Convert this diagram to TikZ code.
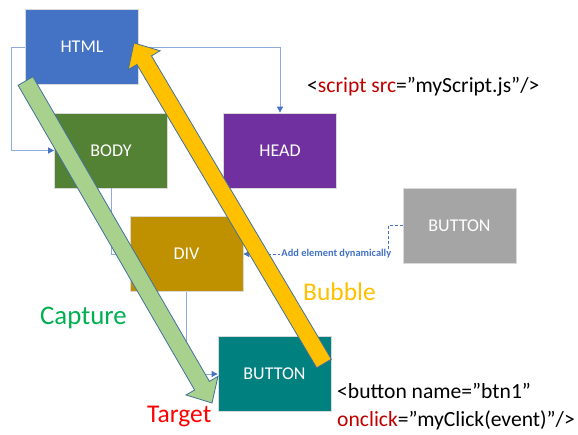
\documentclass[tikz,border=0pt]{standalone}
\usepackage{fontspec}
\setmainfont{Carlito}
\usetikzlibrary{arrows.meta}

\definecolor{htmlblue}{HTML}{4472C4}
\definecolor{bodygreen}{HTML}{548235}
\definecolor{headpurple}{HTML}{7030A0}
\definecolor{divgold}{HTML}{BF9000}
\definecolor{newgray}{HTML}{A5A5A5}
\definecolor{btnteal}{HTML}{00807F}
\definecolor{linkblue}{HTML}{8FAADC}
\definecolor{tipblue}{HTML}{4472C4}
\definecolor{capfill}{HTML}{A9D18E}
\definecolor{bubfill}{HTML}{FFC000}
\definecolor{arrowline}{HTML}{41719C}
\definecolor{capgreen}{HTML}{00B050}
\definecolor{codered}{HTML}{C00000}

\begin{document}
\begin{tikzpicture}[x=1pt,y=-1pt,
  elem/.style={draw=black!15, line width=0.8pt, minimum width=113pt,
    minimum height=75pt, inner sep=0pt, text=white,
    font=\fontsize{18}{18}\selectfont},
  link/.style={draw=linkblue, line width=0.9pt,
    -{Triangle[length=6pt,width=6pt,color=tipblue]}},
  dynlink/.style={link, draw=tipblue, dash pattern=on 3pt off 2pt},
  flow/.style={draw=arrowline, line width=0.8pt, line join=miter},
  code/.style={anchor=base west, inner sep=0pt, font=\fontsize{21.6}{21.6}\selectfont},
  phase/.style={anchor=base west, inner sep=0pt, font=\fontsize{25.5}{25.5}\selectfont}]

\useasboundingbox (0,0) rectangle (578,435);

% DOM element boxes
\node[elem, fill=htmlblue]   (html)   at (82,47)     {HTML};
\node[elem, fill=bodygreen]  (body)   at (111,150.5) {BODY};
\node[elem, fill=headpurple] (head)   at (280,150.5) {HEAD};
\node[elem, fill=divgold]    (div)    at (186.5,254) {DIV};
\node[elem, fill=newgray]    (btnnew) at (459.5,225.5) {BUTTON};
\node[elem, fill=btnteal]    (btn)    at (274.5,374) {BUTTON};

% tree connectors
\draw[link] (html.west) -- ++(-14,0) |- (body.west);
\draw[link] (html.east) -| (head.north);
\draw[link] (body.south) |- (div.west);
\draw[link] (div.south) |- (btn.west);
\draw[dynlink] (btnnew.west) -- ++(-14,0) |-
  node[pos=0.5, anchor=east, xshift=4pt, fill=white, inner sep=1pt,
       text=tipblue, font=\bfseries\fontsize{10.4}{10.4}\selectfont]
  {Add element dynamically} (div.east);

% capture phase arrow (down to the target)
\draw[flow, fill=capfill]
  (32.9,76.7) -- (209.4,381.4) -- (218.0,376.4) -- (212,403)
  -- (186.0,395.0) -- (194.6,390.0) -- (18.1,85.3) -- cycle;

% bubble phase arrow (back up to the root)
\draw[flow, fill=bubfill]
  (331.3,359.2) -- (151.5,55.9) -- (160.1,50.8) -- (134,43)
  -- (128.3,69.6) -- (136.9,64.5) -- (316.7,367.8) -- cycle;

% phase labels
\node[phase, text=capgreen, font=\fontsize{26.8}{26.8}\selectfont]
  (capture) at (40,325) {Capture};
\node[phase, text=bubfill]  (bubble)  at (303,300.5) {Bubble};
\node[phase, text=red]      (target)  at (147,422.5) {Target};

% markup snippets
\node[code] (script) at (307,93)
  {<\textcolor{codered}{script src}=”myScript.js”/>};
\node[code] (markup1) at (337,398.5) {<button name=”btn1"};
\node[code] (markup2) at (337,426.5)
  {\textcolor{codered}{onclick}=”myClick(event)”/>};
\end{tikzpicture}
\end{document}
